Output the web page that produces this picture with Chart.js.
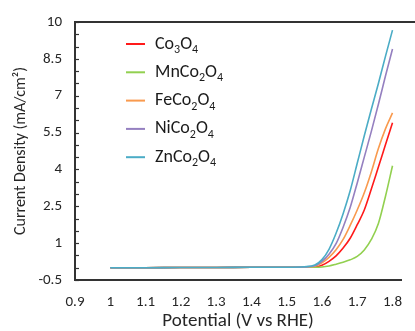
<!DOCTYPE html>
<html lang="en">
<head>
    <meta charset="UTF-8">
    <title>LSV curves</title>
    <script src="https://cdn.jsdelivr.net/npm/chart.js"></script>
    <style>
        body {
            margin: 0;
            background-color: #ffffff;
        }
        .wrap {
            width: 415px;
            height: 331px;
        }
    </style>
</head>
<body>
    <div class="wrap">
        <canvas id="lsvChart" width="415" height="331"></canvas>
    </div>
    <script>
        // data
        const potentials = [1.0, 1.1, 1.2, 1.3, 1.4, 1.5, 1.55, 1.58, 1.6, 1.62, 1.64, 1.66, 1.68, 1.7, 1.72, 1.74, 1.76, 1.78, 1.8];
        const co3o4   = [0.0, 0.0, 0.01, 0.01, 0.02, 0.02, 0.02, 0.03, 0.1, 0.26, 0.48, 0.8, 1.2, 1.75, 2.35, 3.2, 4.1, 5.0, 5.9];
        const mnco2o4 = [0.0, 0.0, 0.01, 0.01, 0.02, 0.02, 0.02, 0.02, 0.03, 0.07, 0.14, 0.22, 0.32, 0.46, 0.72, 1.15, 1.8, 2.9, 4.15];
        const feco2o4 = [0.0, 0.0, 0.01, 0.01, 0.02, 0.02, 0.03, 0.06, 0.2, 0.42, 0.73, 1.15, 1.72, 2.35, 3.05, 3.9, 4.85, 5.65, 6.3];
        const nico2o4 = [0.0, 0.0, 0.01, 0.01, 0.02, 0.02, 0.03, 0.08, 0.26, 0.55, 0.98, 1.65, 2.45, 3.45, 4.5, 5.55, 6.65, 7.8, 8.9];
        const znco2o4 = [0.0, 0.0, 0.01, 0.01, 0.02, 0.02, 0.04, 0.11, 0.33, 0.75, 1.4, 2.2, 3.13, 4.25, 5.37, 6.45, 7.5, 8.6, 9.67];

        const seriesNames = ['Co3O4', 'MnCo2O4', 'FeCo2O4', 'NiCo2O4', 'ZnCo2O4'];
        const seriesValues = [co3o4, mnco2o4, feco2o4, nico2o4, znco2o4];
        const seriesColors = ['#ff1a1a', '#92d050', '#f99a4e', '#9580c0', '#4bacc6'];

        const xTicks = [0.9, 1.0, 1.1, 1.2, 1.3, 1.4, 1.5, 1.6, 1.7, 1.8];
        const yMajor = [-0.5, 1, 2.5, 4, 5.5, 7, 8.5, 10];
        const yMinor = [-0.5, 0, 0.5, 1, 1.5, 2, 2.5, 3, 3.5, 4, 4.5, 5, 5.5, 6, 6.5, 7, 7.5, 8, 8.5, 9, 9.5, 10];

        const fontFamily = "Carlito, Lato, 'Open Sans', sans-serif";
        const axisColor = '#333333';

        // top frame line, short inner ticks on the y axis, legend with subscripts
        const decorPlugin = {
            id: 'decor',
            afterDraw(chart) {
                const ctx = chart.ctx;
                const area = chart.chartArea;
                const yScale = chart.scales.y;
                ctx.save();
                ctx.strokeStyle = axisColor;
                ctx.lineWidth = 2;
                ctx.beginPath();
                ctx.moveTo(area.left - 1, area.top);
                ctx.lineTo(chart.width, area.top);
                ctx.stroke();

                ctx.lineWidth = 1.2;
                yMinor.forEach(v => {
                    const py = Math.round(yScale.getPixelForValue(v)) + 0.5;
                    ctx.beginPath();
                    ctx.moveTo(area.left, py);
                    ctx.lineTo(area.left + 4, py);
                    ctx.stroke();
                });

                const lx = area.left + 51;
                const tx = area.left + 80;
                let ly = area.top + 22;
                ctx.textBaseline = 'middle';
                chart.data.datasets.forEach(ds => {
                    ctx.fillStyle = ds.borderColor;
                    ctx.fillRect(lx, ly - 1, 19, 2);
                    let x = tx;
                    ctx.fillStyle = '#1a1a1a';
                    for (const ch of ds.label) {
                        if (/[0-9]/.test(ch)) {
                            ctx.font = '12px ' + fontFamily;
                            ctx.fillText(ch, x, ly + 6);
                        } else {
                            ctx.font = '18px ' + fontFamily;
                            ctx.fillText(ch, x, ly);
                        }
                        x += ctx.measureText(ch).width;
                    }
                    ly += 28.3;
                });
                ctx.restore();
            }
        };

        const datasets = seriesNames.map((name, i) => ({
            label: name,
            data: potentials.map((p, j) => ({ x: p, y: seriesValues[i][j] })),
            borderColor: seriesColors[i],
            backgroundColor: seriesColors[i],
            borderWidth: 1.6,
            pointRadius: 0,
            showLine: true,
            cubicInterpolationMode: 'monotone',
            order: seriesNames.length - i
        }));

        new Chart(document.getElementById('lsvChart'), {
            type: 'scatter',
            data: { datasets: datasets },
            plugins: [decorPlugin],
            options: {
                responsive: false,
                animation: false,
                layout: { padding: { top: 20, right: 0, left: 0, bottom: 0 } },
                plugins: {
                    legend: { display: false },
                    tooltip: { enabled: false }
                },
                scales: {
                    x: {
                        type: 'linear',
                        min: 0.9,
                        max: 1.8245,
                        afterBuildTicks: scale => {
                            scale.ticks = xTicks.map(v => ({ value: v }));
                        },
                        afterFit: scale => { scale.height = 51; },
                        grid: { display: true, drawOnChartArea: false, drawTicks: false, color: axisColor },
                        border: { display: true, color: axisColor, width: 2 },
                        ticks: {
                            padding: 13,
                            maxRotation: 0,
                            autoSkip: false,
                            color: '#262626',
                            font: { family: fontFamily, size: 15 },
                            callback: v => String(Math.round(v * 10) / 10)
                        },
                        title: {
                            display: true,
                            text: 'Potential (V vs RHE)',
                            color: '#262626',
                            padding: { top: 0, bottom: -2 },
                            font: { family: fontFamily, size: 19 }
                        }
                    },
                    y: {
                        min: -0.5,
                        max: 10,
                        afterBuildTicks: scale => {
                            scale.ticks = yMajor.map(v => ({ value: v }));
                        },
                        afterFit: scale => { scale.width = 75; },
                        grid: { display: true, drawOnChartArea: false, drawTicks: false, color: axisColor },
                        border: { display: true, color: axisColor, width: 2 },
                        ticks: {
                            padding: 13,
                            autoSkip: false,
                            color: '#262626',
                            font: { family: fontFamily, size: 15 },
                            callback: v => String(v)
                        },
                        title: {
                            display: true,
                            text: 'Current Density (mA/cm²)',
                            color: '#262626',
                            padding: { top: 11, bottom: 0 },
                            font: { family: fontFamily, size: 16 }
                        }
                    }
                }
            }
        });
    </script>
</body>
</html>
